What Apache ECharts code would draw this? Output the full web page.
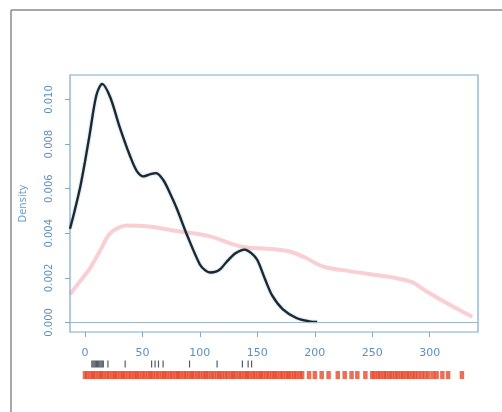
<!DOCTYPE html>
<html>
<head>
<meta charset="utf-8">
<script src="https://cdn.jsdelivr.net/npm/echarts@6/dist/echarts.min.js"></script>
<style>html,body{margin:0;padding:0;background:#fff;}#c{width:502px;height:412px;}</style>
</head>
<body>
<div id="c"></div>
<script>
// ---- data ----
const xTicks = [0, 50, 100, 150, 200, 250, 300];
const yTicks = [0, 0.002, 0.004, 0.006, 0.008, 0.010];
// black density curve [x, density]
const blackX = [-13, -9, -4, 0, 4, 10, 15, 22, 30, 39, 45, 51, 57, 62, 68, 74, 80, 89, 100, 105, 109, 114, 118, 123, 131, 139, 145, 150, 157, 163, 172, 184, 195, 202];
const blackY = [0.0042, 0.0050, 0.0061, 0.0072, 0.0084, 0.0102, 0.0107, 0.0101, 0.0088, 0.0075, 0.0068, 0.00655, 0.00665, 0.0067, 0.0064, 0.0058, 0.0051, 0.0039, 0.0026, 0.00232, 0.00224, 0.00228, 0.0024, 0.0027, 0.0031, 0.00327, 0.0031, 0.0028, 0.0019, 0.0012, 0.0006, 0.0002, 0.00005, 0.00002];
// red density curve [x, density]
const redX = [-13, -5, 4, 13, 22, 36, 56, 80, 109, 129, 141, 160, 178, 192, 207, 230, 250, 270, 285, 297, 317, 337];
const redY = [0.00126, 0.0018, 0.0024, 0.0032, 0.0040, 0.00435, 0.0043, 0.0041, 0.00386, 0.0035, 0.00336, 0.0033, 0.00318, 0.0029, 0.00251, 0.0023, 0.00215, 0.0020, 0.0018, 0.0014, 0.0008, 0.00025];
// rug values
const blackRug = [6, 7, 8, 9, 10, 11, 12, 13, 14, 15, 16, 20, 35, 58, 61, 64, 68, 91, 115, 137, 142, 145];
const redRug = [0,2,5,7,9,12,14,16,19,21,24,26,28,31,33,35,38,40,43,45,47,50,52,55,57,59,62,64,67,69,71,74,76,79,81,83,86,88,91,93,95,98,100,103,105,107,110,112,115,117,119,122,124,127,129,131,134,136,139,141,143,146,148,151,153,155,158,160,163,165,167,170,172,175,177,179,182,184,187,189,
  195,200,206,212,220,226,232,237,244,
  250,252,255,257,260,262,265,267,270,272,275,277,280,282,285,287,290,293,296,299,303,306,311,316,328];

const pair = (xs, ys) => xs.map((x, i) => [x, ys[i]]);
const axisCol = '#7fa9c6';
const labCol = '#5b90c0';

const chart = echarts.init(document.getElementById('c'), null, {renderer: 'canvas'});
chart.setOption({
  animation: false,
  backgroundColor: '#ffffff',
  graphic: [
    {type: 'line', shape: {x1: 11, y1: 10, x2: 502, y2: 10}, style: {stroke: '#8a8a8a', lineWidth: 1.5}},
    {type: 'line', shape: {x1: 11, y1: 10, x2: 11, y2: 412}, style: {stroke: '#8a8a8a', lineWidth: 1.5}}
  ],
  grid: [
    {left: 70, top: 75, width: 408, height: 257, show: true, borderColor: axisCol, borderWidth: 1.2, backgroundColor: 'transparent'},
    {left: 70, top: 360, width: 408, height: 20, show: false}
  ],
  xAxis: [
    {type: 'value', gridIndex: 0, min: -13, max: 342,
      splitLine: {show: false}, axisLine: {show: false, onZero: false},
      axisTick: {show: true, length: 5, lineStyle: {color: axisCol}, customValues: xTicks},
      axisLabel: {color: labCol, fontSize: 11, fontFamily: 'DejaVu Sans', margin: 16, customValues: xTicks}},
    {type: 'value', gridIndex: 1, min: -13, max: 342, show: false}
  ],
  yAxis: [
    {type: 'value', gridIndex: 0, min: -0.00043, max: 0.0111,
      name: 'Density', nameLocation: 'middle', nameGap: 42, nameRotate: 90,
      nameTextStyle: {color: '#6a9cc8', fontSize: 10, fontFamily: 'DejaVu Sans'},
      splitLine: {show: false}, axisLine: {show: false, onZero: false},
      axisTick: {show: true, length: 5, lineStyle: {color: axisCol}, customValues: yTicks},
      axisLabel: {color: labCol, fontSize: 10, fontFamily: 'DejaVu Sans', rotate: 90, margin: 16,
        customValues: yTicks, formatter: v => v.toFixed(3)}},
    {type: 'value', gridIndex: 1, min: 0, max: 2, show: false}
  ],
  series: [
    {type: 'line', xAxisIndex: 0, yAxisIndex: 0, data: pair(redX, redY), smooth: 0.3, symbol: 'none',
      lineStyle: {color: 'rgba(240,130,140,0.38)', width: 4},
      markLine: {silent: true, symbol: 'none', label: {show: false},
        lineStyle: {color: '#9fb8c8', type: 'solid', width: 1}, data: [{yAxis: 0}]}},
    {type: 'line', xAxisIndex: 0, yAxisIndex: 0, data: pair(blackX, blackY), smooth: 0.3, symbol: 'none',
      lineStyle: {color: '#1b2830', width: 2.3, shadowColor: 'rgba(70,130,170,0.6)', shadowBlur: 2}},
    {type: 'scatter', xAxisIndex: 1, yAxisIndex: 1, data: redRug.map(v => [v, 0.5]), symbol: 'rect',
      symbolSize: [4.5, 8], itemStyle: {color: '#e84a2c'}},
    {type: 'scatter', xAxisIndex: 1, yAxisIndex: 1, data: blackRug.map(v => [v, 1.6]), symbol: 'rect',
      symbolSize: [1.2, 7], itemStyle: {color: '#2a3440'}}
  ]
});
</script>
</body>
</html>
